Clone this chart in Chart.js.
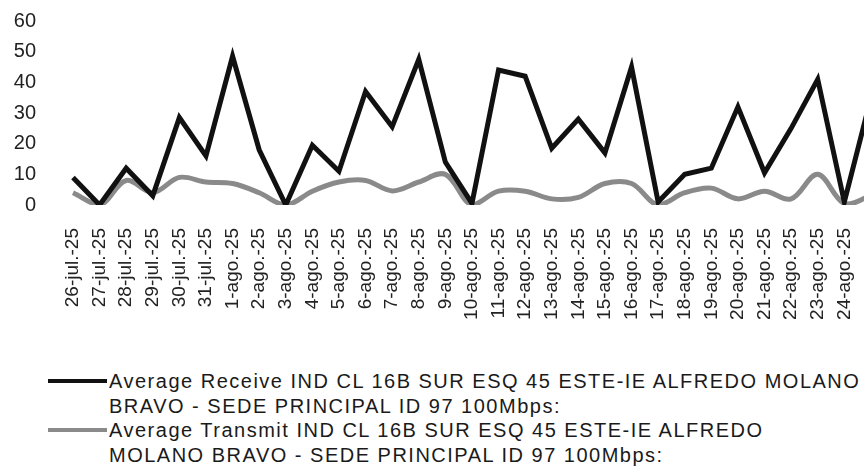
<!DOCTYPE html>
<html>
<head>
<meta charset="utf-8">
<script src="https://cdn.jsdelivr.net/npm/chart.js@4.4.1/dist/chart.umd.min.js"></script>
<style>
  html, body { margin: 0; padding: 0; background: #fff; }
  body { width: 864px; height: 467px; position: relative; overflow: hidden; font-family: "Liberation Sans", Arial, sans-serif; }
  #wrap { position: absolute; left: 0; top: 0; width: 864px; height: 330px; }
  #legend { position: absolute; left: 48px; top: 369px; color: #1a1a1a; font-size: 20px; line-height: 24.7px; letter-spacing: 1.5px; }
  .item { display: flex; align-items: flex-start; }
  .swatch { width: 59px; height: 4px; margin-top: 10px; margin-right: 2px; flex: none; }
</style>
</head>
<body>
<div id="wrap"><canvas id="lineChart" width="864" height="330"></canvas></div>
<div id="legend"></div>
<script>
// etiquetas del eje x (la última queda fuera del recorte)
const fechas = [
  '26-jul.-25', '27-jul.-25', '28-jul.-25', '29-jul.-25', '30-jul.-25', '31-jul.-25',
  '1-ago.-25', '2-ago.-25', '3-ago.-25', '4-ago.-25', '5-ago.-25', '6-ago.-25',
  '7-ago.-25', '8-ago.-25', '9-ago.-25', '10-ago.-25', '11-ago.-25', '12-ago.-25',
  '13-ago.-25', '14-ago.-25', '15-ago.-25', '16-ago.-25', '17-ago.-25', '18-ago.-25',
  '19-ago.-25', '20-ago.-25', '21-ago.-25', '22-ago.-25', '23-ago.-25', '24-ago.-25',
  '25-ago.-25'
];

const recibido = [9, 0, 12, 3, 28.5, 16, 48.5, 18, 0, 19.5, 11, 37, 25.5, 47.5, 14, 0.5,
  44, 42, 18.5, 28, 17, 45, 1, 10, 12, 32, 10.5, 25, 41, 1, 35];
const transmitido = [4, 0, 8, 4, 9, 7.5, 7, 4, 0, 4.5, 7.5, 8, 4.6, 7.5, 10, 0,
  4.5, 4.5, 2, 2.5, 7, 7, 0, 4, 5.5, 2, 4.5, 2, 10, 0.5, 3];

const nombres = [
  ['Average Receive IND CL 16B SUR ESQ 45 ESTE-IE ALFREDO MOLANO', 'BRAVO - SEDE PRINCIPAL ID 97 100Mbps:'],
  ['Average Transmit IND CL 16B SUR ESQ 45 ESTE-IE ALFREDO', 'MOLANO BRAVO - SEDE PRINCIPAL ID 97 100Mbps:']
];
const colores = ['#111111', '#8a8a8a'];
const yTicks = [0, 10, 20, 30, 40, 50, 60];

const ultimoVisible = 29;

function puntos(serie) {
  return serie.map((v, i) => ({ x: i, y: v }));
}

const chart = new Chart(document.getElementById('lineChart'), {
  type: 'line',
  data: {
    datasets: [
      {
        label: nombres[0].join(' '),
        data: puntos(recibido),
        borderColor: colores[0],
        borderWidth: 5,
        pointRadius: 0,
        tension: 0,
        fill: false
      },
      {
        label: nombres[1].join(' '),
        data: puntos(transmitido),
        borderColor: colores[1],
        borderWidth: 5,
        pointRadius: 0,
        tension: 0.35,
        fill: false
      }
    ]
  },
  options: {
    responsive: false,
    animation: false,
    layout: { padding: { top: 21, right: 0, bottom: 0, left: 0 } },
    plugins: {
      legend: { display: false },
      tooltip: { enabled: false }
    },
    scales: {
      x: {
        type: 'linear',
        min: -1.24,
        max: 29.74,
        grid: { display: false, drawTicks: false },
        border: { display: false },
        afterBuildTicks: function (scale) {
          scale.ticks = fechas.slice(0, ultimoVisible + 1).map((f, i) => ({ value: i }));
        },
        afterFit: function (scale) {
          scale.height = 125;
          scale.paddingLeft = 0;
          scale.paddingRight = 0;
        },
        ticks: {
          autoSkip: false,
          minRotation: 90,
          maxRotation: 90,
          padding: 23,
          color: '#222',
          font: { family: 'Liberation Sans', size: 19 },
          callback: function (value) { return fechas[value]; }
        }
      },
      y: {
        min: 0,
        max: 60,
        grid: { display: false, drawTicks: false },
        border: { display: false },
        afterBuildTicks: function (scale) {
          scale.ticks = yTicks.map(v => ({ value: v }));
        },
        afterFit: function (scale) { scale.width = 40; },
        ticks: {
          padding: 4,
          color: '#222',
          font: { family: 'Liberation Sans', size: 20 }
        }
      }
    }
  }
});

// leyenda en HTML para poder partir el texto en dos líneas
const legend = document.getElementById('legend');
nombres.forEach((lineas, i) => {
  const item = document.createElement('div');
  item.className = 'item';
  const sw = document.createElement('span');
  sw.className = 'swatch';
  sw.style.background = colores[i];
  const txt = document.createElement('span');
  txt.innerHTML = lineas.join('<br>');
  item.appendChild(sw);
  item.appendChild(txt);
  legend.appendChild(item);
});
</script>
</body>
</html>
